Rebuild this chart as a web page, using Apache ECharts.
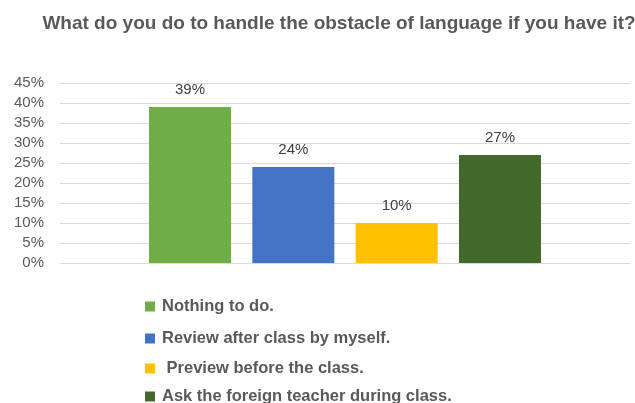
<!DOCTYPE html>
<html>
<head>
<meta charset="utf-8">
<script src="https://cdn.jsdelivr.net/npm/echarts@6/dist/echarts.min.js"></script>
<style>
html,body{margin:0;padding:0;background:#fff;}
#chart{width:635px;height:403px;}
</style>
</head>
<body>
<div id="chart"></div>
<script>
const title = 'What do you do to handle the obstacle of language if you have it?';
const seriesNames = ['Nothing to do.', 'Review after class by myself.', ' Preview before the class.', 'Ask the foreign teacher during class.'];
const seriesValues = [39, 24, 10, 27];
const seriesColors = ['#70ad47', '#4472c4', '#ffc000', '#43682b'];
const category = [''];
const yMin = 0, yMax = 45, yStep = 5;

const chart = echarts.init(document.getElementById('chart'), null, {renderer: 'canvas'});
const series = seriesNames.map((name, i) => ({
  name: name,
  type: 'bar',
  data: [seriesValues[i]],
  barWidth: 82,
  barGap: '26%',
  itemStyle: {color: seriesColors[i]},
  label: {
    show: true,
    position: 'top',
    distance: 10,
    formatter: '{c}%',
    color: '#404040',
    fontSize: 15,
    fontFamily: 'Liberation Sans'
  }
}));

const legendCenters = [305, 337, 367, 395];
const legends = seriesNames.map((name, i) => ({
  orient: 'vertical',
  left: 145,
  top: legendCenters[i] - 7,
  padding: 0,
  itemWidth: 10,
  itemHeight: 10,
  itemGap: 0,
  icon: 'rect',
  textStyle: {fontSize: 16.5, fontWeight: 'bold', color: '#595959', fontFamily: 'Liberation Sans', padding: [0, 0, 0, 2]},
  data: [name]
}));

chart.setOption({
  animation: false,
  title: {
    text: title,
    left: 334,
    textAlign: 'center',
    top: 9,
    textStyle: {fontSize: 19, fontWeight: 'bold', color: '#595959', fontFamily: 'Liberation Sans'}
  },
  grid: {left: 60, right: 5, top: 83, height: 180, containLabel: false},
  xAxis: {
    type: 'category',
    data: category,
    axisLine: {show: true, lineStyle: {color: '#d9d9d9'}},
    axisTick: {show: false},
    axisLabel: {show: false}
  },
  yAxis: {
    type: 'value',
    min: yMin, max: yMax, interval: yStep,
    axisLine: {show: false},
    axisTick: {show: false},
    splitLine: {lineStyle: {color: '#d9d9d9', width: 1}},
    axisLabel: {formatter: '{value}%', color: '#595959', fontSize: 15, margin: 16, fontFamily: 'Liberation Sans'}
  },
  legend: legends,
  series: series
});
</script>
</body>
</html>
